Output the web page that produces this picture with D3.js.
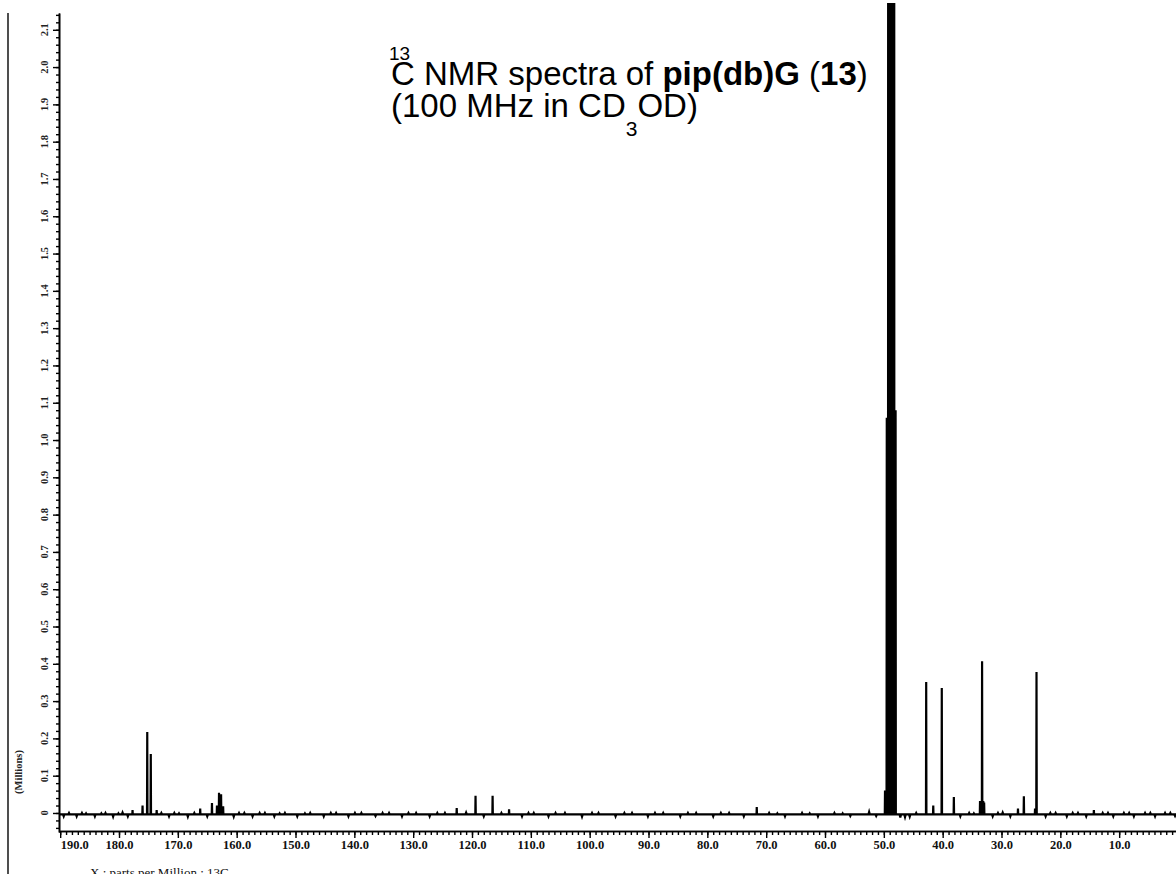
<!DOCTYPE html>
<html><head><meta charset="utf-8">
<script src="https://cdn.jsdelivr.net/npm/d3@7"></script>
<style>html,body{margin:0;padding:0;background:#fff;} svg{display:block}</style>
</head><body>
<svg id="chart" width="1176" height="874"></svg>
<script>
// ---- data ----
const xTickValues = [190,180,170,160,150,140,130,120,110,100,90,80,70,60,50,40,30,20,10];
const xTickLabels = ["190.0","180.0","170.0","160.0","150.0","140.0","130.0","120.0","110.0","100.0","90.0","80.0","70.0","60.0","50.0","40.0","30.0","20.0","10.0"];
const yTickValues = [0,0.1,0.2,0.3,0.4,0.5,0.6,0.7,0.8,0.9,1.0,1.1,1.2,1.3,1.4,1.5,1.6,1.7,1.8,1.9,2.0,2.1];
const yTickLabels = ["0","0.1","0.2","0.3","0.4","0.5","0.6","0.7","0.8","0.9","1.0","1.1","1.2","1.3","1.4","1.5","1.6","1.7","1.8","1.9","2.0","2.1"];

// peak positions (ppm) and heights (millions)
const peakPpm    = [177.7, 176.0, 175.2, 174.6, 173.6, 166.2, 164.2, 163.35, 163.0, 162.65, 162.3,
                    122.6, 119.4, 116.5, 113.7, 71.6,
                    49.80, 49.50, 49.25, 49.00, 48.75, 48.50, 48.25, 48.00,
                    42.8, 41.6, 40.15, 38.1, 33.65, 33.45, 33.3, 33.1, 32.95, 27.2, 26.2, 24.3, 24.05, 14.3];
const peakHeight = [0.008, 0.02, 0.217, 0.158, 0.008, 0.012, 0.027, 0.02, 0.054, 0.05, 0.018,
                    0.013, 0.046, 0.046, 0.01, 0.016,
                    0.06, 1.06, 4.0, 4.0, 4.0, 4.0, 4.0, 1.08,
                    0.351, 0.02, 0.335, 0.043, 0.032, 0.032, 0.407, 0.032, 0.028, 0.012, 0.045, 0.012, 0.378, 0.008];

// baseline noise spikes (ppm, millions)
const noisePpm   = [189.4,188.5,187.2,186.3,185.6,184.1,183.0,182.3,181.0,180.1,179.4,178.5,172.8,171.5,170.6,169.8,168.3,167.2,165.0,160.5,159.6,158.7,157.3,156.1,155.2,153.6,152.7,151.8,149.7,148.4,147.5,145.2,144.0,143.1,141.0,139.9,138.8,136.4,135.2,134.1,131.9,130.8,129.5,127.2,125.9,124.6,121.0,118.0,115.0,111.5,110.4,109.5,107.0,105.8,104.2,101.3,99.6,98.5,95.6,94.1,92.8,90.1,88.9,87.5,84.6,83.3,81.9,79.0,77.7,76.3,73.8,69.5,68.1,66.8,63.9,62.6,61.2,58.4,57.0,55.7,52.5,51.3,47.2,46.4,45.6,44.5,37.0,35.5,34.7,31.5,30.6,29.8,28.5,22.5,21.7,20.8,18.9,17.9,17.0,15.6,12.8,11.9,11.0,9.2,8.3,7.5,5.6,4.7,3.9,2.2,1.3,0.5];
const noiseValue = [-0.009,0.000,-0.009,0.000,-0.001,-0.009,-0.001,0.000,-0.010,-0.001,0.001,-0.009,0.000,-0.009,0.000,-0.001,-0.010,0.000,-0.009,-0.010,0.000,0.000,-0.009,0.000,0.000,-0.009,-0.001,0.000,-0.009,-0.001,0.000,-0.009,0.000,0.000,-0.009,0.000,0.000,-0.008,0.000,0.000,-0.009,0.000,0.000,-0.009,0.000,0.000,0.001,-0.009,0.000,-0.009,0.000,0.000,-0.009,0.000,0.000,-0.010,0.000,0.000,-0.009,0.000,0.000,-0.009,0.000,0.000,-0.009,0.000,0.000,-0.009,0.000,0.000,-0.009,0.000,-0.001,-0.009,0.000,-0.001,-0.009,0.000,-0.001,-0.008,0.003,-0.008,-0.012,-0.011,-0.010,0.000,-0.009,0.000,-0.001,-0.009,0.000,0.001,-0.009,-0.009,0.000,0.000,-0.009,0.000,0.000,-0.009,0.000,0.000,-0.009,0.000,0.000,-0.009,0.000,0.000,-0.009,0.000,0.000,-0.008];
const baseLevel = -0.004;

// ---- layout ----
const svg = d3.select("#chart");
const x = d3.scaleLinear().domain([190.2, 0]).range([59, 1178]);
const y = d3.scaleLinear().domain([-0.051, 2.145]).range([832, 13]);

// left frame line
svg.append("line").attr("x1", 8).attr("x2", 8).attr("y1", 13).attr("y2", 874)
  .attr("stroke", "#222").attr("stroke-width", 1.6);

// spectrum: baseline with stick-like peaks and noise spikes
const pts = [];
noisePpm.forEach((p, i) => {
  if (!peakPpm.some(q => Math.abs(q - p) < 0.35)) {
    pts.push([p + 0.12, baseLevel]);
    pts.push([p, noiseValue[i]]);
    pts.push([p - 0.12, baseLevel]);
  }
});
peakPpm.forEach((p, i) => {
  pts.push([p + 0.04, baseLevel]);
  pts.push([p, peakHeight[i]]);
  pts.push([p - 0.04, baseLevel]);
});
pts.push([190.2, baseLevel]);
pts.push([0, baseLevel]);
pts.sort((a, b) => b[0] - a[0]);

svg.append("clipPath").attr("id", "clip").append("rect")
  .attr("x", 59).attr("y", 3).attr("width", 1117).attr("height", 829);
svg.append("path").datum(pts)
  .attr("clip-path", "url(#clip)")
  .attr("fill", "none").attr("stroke", "#000").attr("stroke-width", 2.2)
  .attr("stroke-linejoin", "miter")
  .attr("d", d3.line().x(d => x(d[0])).y(d => y(d[1])));

// x axis (minor + major)
const xMinor = d3.range(190, 0, -1);
const gxMinor = svg.append("g").attr("transform", "translate(0,831)")
  .call(d3.axisBottom(x).tickValues(xMinor).tickSize(4).tickSizeOuter(0).tickFormat(""));
const gx = svg.append("g").attr("transform", "translate(0,831)")
  .call(d3.axisBottom(x).tickValues(xTickValues).tickSize(7).tickSizeOuter(0)
    .tickFormat((d, i) => xTickLabels[i]));
[gxMinor, gx].forEach(g => {
  g.select(".domain").attr("stroke", "#000").attr("stroke-width", 1.5);
  g.selectAll(".tick line").attr("stroke", "#000").attr("stroke-width", 1.4);
});
gx.selectAll(".tick text")
  .attr("font-family", "Liberation Serif, Times New Roman, serif")
  .attr("font-weight", "bold").attr("font-size", 12.5).attr("fill", "#111")
  .attr("y", 9);
gx.selectAll(".tick").filter(d => d === 190).select("text")
  .attr("text-anchor", "start").attr("x", 0);

// y axis
const yMinor = d3.range(-0.04, 2.15, 0.02).map(v => +v.toFixed(2));
const gyMinor = svg.append("g").attr("transform", "translate(59,0)")
  .call(d3.axisLeft(y).tickValues(yMinor).tickSize(3).tickSizeOuter(0).tickFormat(""));
const gy = svg.append("g").attr("transform", "translate(59,0)")
  .call(d3.axisLeft(y).tickValues(yTickValues).tickSize(6).tickSizeOuter(0).tickFormat(""));
[gyMinor, gy].forEach(g => {
  g.select(".domain").attr("stroke", "#000").attr("stroke-width", 1.6);
  g.selectAll(".tick line").attr("stroke", "#000").attr("stroke-width", 1.4);
});
svg.append("g").selectAll("text").data(yTickValues).join("text")
  .attr("transform", d => `translate(47.5,${y(d)}) rotate(-90)`)
  .attr("text-anchor", "middle")
  .attr("font-family", "Liberation Serif, Times New Roman, serif")
  .attr("font-weight", "bold").attr("font-size", 10.5).attr("fill", "#222")
  .text((d, i) => yTickLabels[i]);

// axis titles
svg.append("text").attr("transform", "translate(22,772) rotate(-90)")
  .attr("text-anchor", "middle")
  .attr("font-family", "Liberation Serif, Times New Roman, serif")
  .attr("font-weight", "bold").attr("font-size", 10.5).attr("fill", "#222")
  .text("(Millions)");
svg.append("text").attr("x", 90).attr("y", 877)
  .attr("font-family", "Liberation Serif, Times New Roman, serif")
  .attr("font-size", 13).attr("fill", "#111")
  .text("X : parts per Million : 13C");

// chart title
const tf = "Liberation Sans, Arial, sans-serif";
svg.append("text").attr("x", 389).attr("y", 60).attr("font-family", tf)
  .attr("font-size", 19).text("13");
const t1 = svg.append("text").attr("x", 391).attr("y", 85).attr("font-family", tf).attr("font-size", 33);
t1.append("tspan").text("C NMR spectra of ");
t1.append("tspan").attr("font-weight", "bold").text("pip(db)G");
t1.append("tspan").text(" (");
t1.append("tspan").attr("font-weight", "bold").text("13");
t1.append("tspan").text(")");
const t2 = svg.append("text").attr("x", 391).attr("y", 117).attr("font-family", tf).attr("font-size", 33);
t2.append("tspan").text("(100 MHz in CD");
t2.append("tspan").attr("font-size", 21).attr("dy", 19).text("3");
t2.append("tspan").attr("dy", -19).text("OD)");
</script>
</body></html>
